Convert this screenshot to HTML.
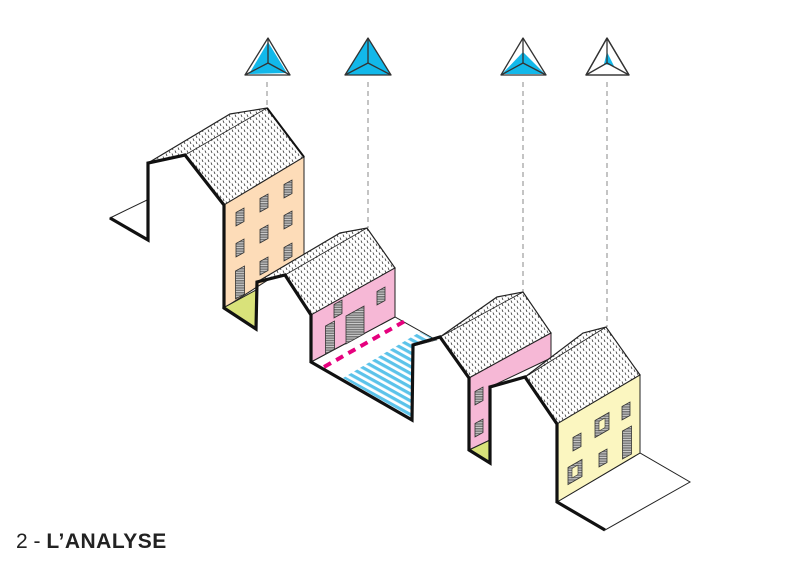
<!DOCTYPE html>
<html><head><meta charset="utf-8"><style>
html,body{margin:0;padding:0;background:#fff;}
svg{display:block;}
</style></head><body>
<svg width="800" height="566" viewBox="0 0 800 566" xmlns="http://www.w3.org/2000/svg">
<defs>
<pattern id="hatch" width="6" height="6" patternUnits="userSpaceOnUse">
<rect width="6" height="6" fill="#fff"/>
<line x1="1" y1="0.5" x2="2" y2="3" stroke="#444" stroke-width="0.9"/>
<line x1="4" y1="3.5" x2="5" y2="6" stroke="#444" stroke-width="0.9"/>
</pattern>
<pattern id="stripes" width="6" height="6" patternUnits="userSpaceOnUse" patternTransform="rotate(29)">
<rect width="6" height="6" fill="#fff"/>
<rect y="0" width="6" height="3.2" fill="#5cc3ea"/>
</pattern>
<pattern id="win" width="4" height="2.4" patternUnits="userSpaceOnUse">
<rect width="4" height="2.4" fill="#777"/>
<rect y="1.6" width="4" height="0.8" fill="#ddd"/>
</pattern>
<g id="w"><polygon points="-4,-4.5 4,-9 4,4.5 -4,9" fill="url(#win)" stroke="#333" stroke-width="0.8"/></g>
<g id="d"><polygon points="-4.5,-9 4.5,-14 4.5,14 -4.5,19" fill="url(#win)" stroke="#333" stroke-width="0.8"/></g>
<g id="sh"><polygon points="-7,-4.5 7,-12.5 7,4.5 -7,12.5" fill="url(#win)" stroke="#333" stroke-width="0.8"/><polygon points="-3,-3.5 3,-7 3,2.5 -3,6" fill="#fbf6c0" stroke="#333" stroke-width="0.6"/></g>
</defs>

<g stroke="#888" stroke-width="1" stroke-dasharray="5,4">
<line x1="267" y1="82" x2="267" y2="108"/>
<line x1="368" y1="82" x2="368" y2="228"/>
<line x1="523" y1="82" x2="523" y2="292"/>
<line x1="607" y1="82" x2="607" y2="327"/>
</g>

<g stroke="#333" stroke-width="1.3" stroke-linejoin="round">
<polygon points="268,38 245,75 290,75" fill="#fff"/>
<polygon points="268,42 249,74 287,73" fill="#12b8ea" stroke="none"/>
<line x1="268" y1="38" x2="268" y2="63"/><line x1="268" y1="63" x2="245" y2="75"/><line x1="268" y1="63" x2="290" y2="75"/>
<polygon points="368,38 345,75 391,75" fill="#12b8ea"/>
<line x1="368" y1="38" x2="368" y2="63"/><line x1="368" y1="63" x2="345" y2="75"/><line x1="368" y1="63" x2="391" y2="75"/>
<polygon points="523,38 501,75 546,75" fill="#fff"/>
<polygon points="523,52 502,74 545,74" fill="#12b8ea" stroke="none"/>
<line x1="523" y1="38" x2="523" y2="63"/><line x1="523" y1="63" x2="501" y2="75"/><line x1="523" y1="63" x2="546" y2="75"/>
<polygon points="607,38 586,75 629,75" fill="#fff"/>
<polygon points="607,52 604,64 614,66" fill="#12b8ea" stroke="none"/>
<line x1="607" y1="38" x2="607" y2="63"/><line x1="607" y1="63" x2="586" y2="75"/><line x1="607" y1="63" x2="629" y2="75"/>
<polygon points="607,38 586,75 629,75" fill="none"/>
</g>

<polygon points="110,218 147,200 148,240" fill="#fff" stroke="#222" stroke-width="1"/>
<polygon points="148,163 230,114 267,108 304,157 224,205 185,155" fill="url(#hatch)" stroke="#222" stroke-width="1.2"/>
<line x1="185" y1="155" x2="267" y2="108" stroke="#222" stroke-width="0.8"/>
<polygon points="224,205 304,157 304,257 224,308" fill="#fddcb8" stroke="#222" stroke-width="1"/>
<polygon points="223,308 256,290 256,329" fill="#d9e27a" stroke="#222" stroke-width="1"/>
<line x1="267" y1="108" x2="304" y2="157" stroke="#222" stroke-width="2"/>
<use href="#w" x="240" y="217"/><use href="#w" x="264" y="203"/><use href="#w" x="288" y="189"/>
<use href="#w" x="240" y="248"/><use href="#w" x="264" y="234"/><use href="#w" x="288" y="220"/>
<use href="#w" x="288" y="252"/><use href="#w" x="264" y="266"/><use href="#d" x="240" y="280"/>

<polygon points="311,362 395,317 436,340 413,346 412,420" fill="#fff" stroke="#222" stroke-width="1"/>
<polygon points="343,378 420,332 436,340 413,346 412,418" fill="url(#stripes)"/>
<line x1="324" y1="367" x2="405" y2="321" stroke="#e6007e" stroke-width="4" stroke-dasharray="8,6"/>
<polygon points="257,282 340,233 367,228 395,268 311,315 285,275" fill="url(#hatch)" stroke="#222" stroke-width="1.2"/>
<line x1="285" y1="275" x2="367" y2="228" stroke="#222" stroke-width="0.8"/>
<polygon points="311,315 395,268 395,317 311,362" fill="#f6b8d6" stroke="#222" stroke-width="1"/>
<use href="#w" x="338" y="309"/><use href="#w" x="381" y="296"/><use href="#d" x="330" y="335"/>
<polygon points="346,316 364,306 364,334 346,344" fill="url(#win)" stroke="#333" stroke-width="0.8"/>

<polygon points="440,337 497,297 523,292 551,333 469,378" fill="url(#hatch)" stroke="#222" stroke-width="1.2"/>
<line x1="440" y1="337" x2="523" y2="292" stroke="#222" stroke-width="0.8"/>
<polygon points="469,378 551,333 551,358 490,387 490,440 469,450" fill="#f6b8d6" stroke="#222" stroke-width="1"/>
<polygon points="469,450 490,440 490,463" fill="#d9e27a" stroke="#222" stroke-width="1"/>
<use href="#w" x="479" y="396"/><use href="#w" x="479" y="428"/>

<polygon points="557,502 640,453 690,482 605,530" fill="#fff" stroke="#222" stroke-width="1"/>
<polygon points="525,377 583,333 606,327 640,375 557,424" fill="url(#hatch)" stroke="#222" stroke-width="1.2"/>
<line x1="525" y1="377" x2="606" y2="327" stroke="#222" stroke-width="0.8"/>
<polygon points="557,424 640,375 640,453 557,502" fill="#fbf6c0" stroke="#222" stroke-width="1"/>
<use href="#w" x="577" y="442"/><use href="#sh" x="602" y="425"/><use href="#w" x="626" y="411"/>
<use href="#sh" x="575" y="472"/><use href="#w" x="603" y="458"/><use href="#d" x="627" y="440"/>

<g fill="none" stroke="#111" stroke-width="3.2" stroke-linejoin="miter">
<polyline points="110,218 148,240 148,163 185,155 224,205 224,308 256,329 257,282 285,275 311,315 311,362 412,420 413,345 440,337 469,378 469,450 490,463 490,387 525,377 557,424 557,502 605,530"/>
<line x1="267" y1="108" x2="304" y2="157" stroke-width="1.6"/>
</g>

<text x="16" y="548" font-family="'Liberation Sans', sans-serif" font-size="21" fill="#222">2 - <tspan font-weight="bold" letter-spacing="0.5">L’ANALYSE</tspan></text>
</svg>
</body></html>
